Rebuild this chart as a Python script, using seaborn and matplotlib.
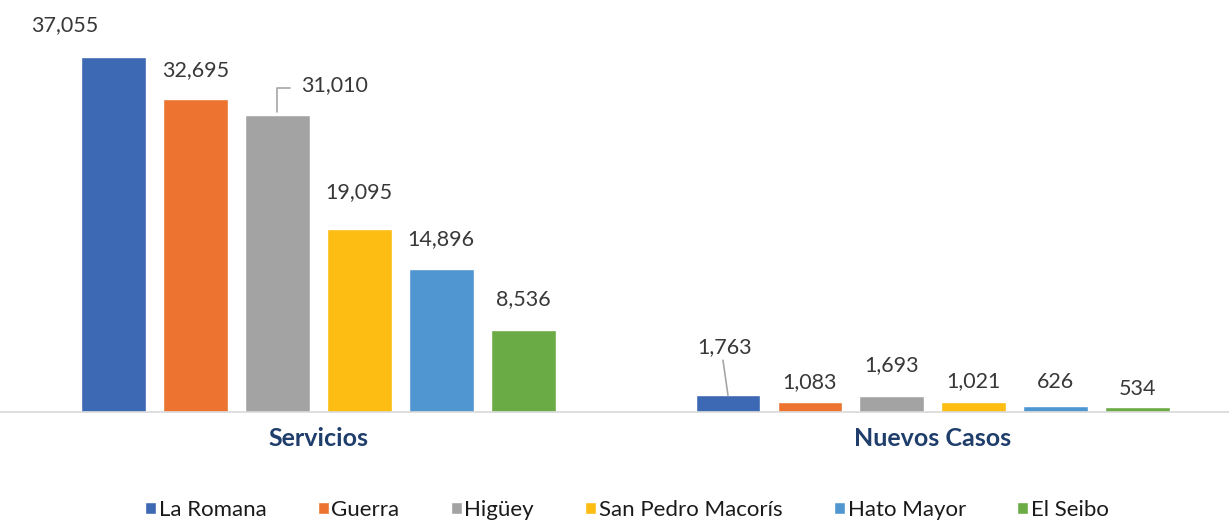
import matplotlib
matplotlib.use("Agg")

import matplotlib.pyplot as plt
import pandas as pd
import seaborn as sns

grupos = ["Servicios", "Nuevos Casos"]
provincias = ["La Romana", "Guerra", "Higüey", "San Pedro Macorís", "Hato Mayor", "El Seibo"]
servicios = [37055, 32695, 31010, 19095, 14896, 8536]
nuevos_casos = [1763, 1083, 1693, 1021, 626, 534]

COLORES = ["#3d69b4", "#ec7430", "#a3a3a3", "#fdbd12", "#5096d0", "#6aab45"]

# desplazamiento de etiquetas (px) respecto al tope de la barra, como en el original
OFFSETS = {
    "Servicios": [(-49, 32), (0, 29), (57, 30), (0, 37), (0, 30), (0, 31)],
    "Nuevos Casos": [(-3, 48), (0, 20), (0, 31), (0, 21), (0, 24), (0, 18)],
}
LEADERS = {("Servicios", 2), ("Nuevos Casos", 0)}

df = pd.DataFrame({
    "grupo": [g for g in grupos for _ in provincias],
    "provincia": provincias * 2,
    "valor": servicios + nuevos_casos,
})

sns.set_theme(style="white")
plt.rcParams["font.family"] = ["Lato", "DejaVu Sans"]

fig = plt.figure(figsize=(12.29, 5.21), dpi=100)
ax = fig.add_axes([0.0, 0.209, 1.0, 0.772])

sns.barplot(data=df, x="grupo", y="valor", hue="provincia", order=grupos,
            hue_order=provincias, palette=COLORES, width=0.8, gap=0.21,
            saturation=1, ax=ax)

ax.set_ylim(0, 42000)
ax.set_xlim(-0.518, 1.482)

for hi, cont in enumerate(ax.containers):
    for gi, bar in enumerate(cont):
        g = grupos[gi]
        dx, dy = OFFSETS[g][hi]
        x = bar.get_x() + bar.get_width() / 2
        h = bar.get_height()
        ax.annotate(f"{int(h):,}", (x, h), xytext=(dx, dy),
                    textcoords="offset pixels", ha="center", va="center",
                    fontsize=15.5, color="#383838")
        if (g, hi) in LEADERS:
            if dx > 0:
                ax.annotate("", (x, h), xytext=(dx - 42, dy - 3),
                            textcoords="offset pixels",
                            arrowprops=dict(arrowstyle="-", color="#a6a6a6", lw=1.2,
                                            connectionstyle="angle,angleA=0,angleB=90,rad=0"))
            else:
                ax.annotate("", (x, h), xytext=(dx - 2, dy - 13),
                            textcoords="offset pixels",
                            arrowprops=dict(arrowstyle="-", color="#a6a6a6", lw=1.2,
                                            shrinkA=0, shrinkB=0))

ax.set_xlabel("")
ax.set_ylabel("")
ax.set_yticks([])
ax.tick_params(axis="x", length=0, pad=11)
for lab in ax.get_xticklabels():
    lab.set_fontweight("bold")
    lab.set_color("#1f3e6b")
    lab.set_fontsize(18)

for s in ["top", "right", "left"]:
    ax.spines[s].set_visible(False)
ax.spines["bottom"].set_color("#d9d9d9")
ax.spines["bottom"].set_linewidth(1.2)

sns.move_legend(ax, "lower center", bbox_to_anchor=(0.51, -0.318), ncol=6,
                frameon=False, title=None, fontsize=16, handlelength=0.5,
                handleheight=0.5, handletextpad=0.12, columnspacing=2.3)
for t in ax.get_legend().get_texts():
    t.set_color("#1a1a1a")

fig.savefig("out.png", dpi=100)
